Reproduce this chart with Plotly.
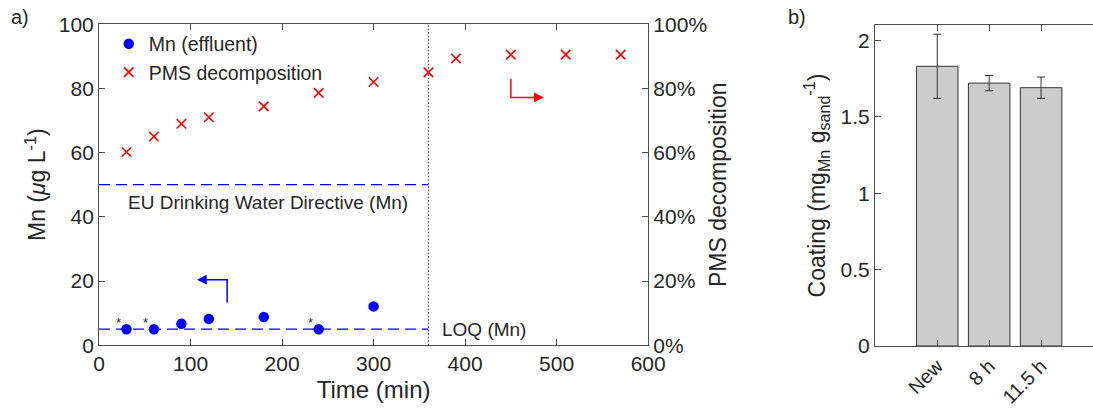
import plotly.graph_objects as go

# ---- data panel a ----
time_mn = [30, 60, 90, 120, 180, 240, 300]
mn_effluent = [5.0, 5.0, 6.7, 8.2, 8.8, 5.0, 12.1]
mn_flag = ["*", "*", "", "", "", "*", ""]
time_pms = [30, 60, 90, 120, 180, 240, 300, 360, 390, 450, 510, 570]
pms_decomp = [60.2, 65.0, 69.0, 71.0, 74.4, 78.6, 82.0, 85.0, 89.3, 90.5, 90.5, 90.5]
eu_limit = 50
loq = 5
line_t = [0, 360]
cutoff_t = 360

# ---- data panel b ----
coat_cats = ["New", "8 h", "11.5 h"]
coat_pos = [1, 2, 3]
coat_vals = [1.83, 1.72, 1.69]
coat_err = [0.21, 0.05, 0.07]

FONT = "Liberation Sans, Arial, sans-serif"
DARK = "#262626"
AX = "#4d4d4d"

fig = go.Figure()

# reference lines
fig.add_trace(go.Scatter(x=line_t, y=[eu_limit, eu_limit], mode="lines",
                         line=dict(color="#0000ff", dash="11px,6px", width=1.3),
                         showlegend=False, hoverinfo="skip", xaxis="x", yaxis="y"))
fig.add_trace(go.Scatter(x=line_t, y=[loq, loq], mode="lines",
                         line=dict(color="#0000ff", dash="11px,6px", width=1.3),
                         showlegend=False, hoverinfo="skip", xaxis="x", yaxis="y"))
fig.add_trace(go.Scatter(x=[cutoff_t, cutoff_t], y=[0, 100], mode="lines",
                         line=dict(color="#444444", dash="1.5px,2px", width=1.2),
                         showlegend=False, hoverinfo="skip", xaxis="x", yaxis="y"))

fig.add_trace(go.Scatter(x=time_mn, y=mn_effluent, mode="markers",
                         name="Mn (effluent)",
                         marker=dict(color="#0000ff", size=10.5, symbol="circle"),
                         xaxis="x", yaxis="y"))
fig.add_trace(go.Scatter(x=time_pms, y=pms_decomp, mode="markers",
                         name="PMS decomposition",
                         marker=dict(color="#ff0000", size=9.5, symbol="x-thin",
                                     line=dict(color="#ff0000", width=1.6)),
                         xaxis="x", yaxis="y2"))

# arrow corner lines
fig.add_trace(go.Scatter(x=[140, 140, 118], y=[13.3, 20.4, 20.4], mode="lines",
                         line=dict(color="#0000ff", width=1.5), showlegend=False,
                         hoverinfo="skip", xaxis="x", yaxis="y"))
fig.add_trace(go.Scatter(x=[450, 450, 475], y=[83, 77.2, 77.2], mode="lines",
                         line=dict(color="#ff0000", width=1.5), showlegend=False,
                         hoverinfo="skip", xaxis="x", yaxis="y2"))

# panel b bars
fig.add_trace(go.Bar(x=coat_pos, y=coat_vals, width=0.8,
                     marker=dict(color="#cccccc", line=dict(color="#333333", width=1)),
                     error_y=dict(type="data", array=coat_err, color="#333333",
                                  thickness=1, width=4),
                     showlegend=False, xaxis="x3", yaxis="y3"))

ann = [
    dict(x=107, y=20.4, ax=120, ay=20.4, xref="x", yref="y", axref="x", ayref="y",
         showarrow=True, arrowhead=2, arrowsize=1.3, arrowwidth=1.5, arrowcolor="#0000ff", text=""),
    dict(x=486, y=77.2, ax=472, ay=77.2, xref="x", yref="y2", axref="x", ayref="y2",
         showarrow=True, arrowhead=2, arrowsize=1.3, arrowwidth=1.5, arrowcolor="#ff0000", text=""),
    dict(x=185, y=eu_limit, xref="x", yref="y", text="EU Drinking Water Directive (Mn)",
         showarrow=False, yanchor="middle", yshift=-18, font=dict(size=19, color=DARK, family=FONT)),
    dict(x=373, y=loq, xref="x", yref="y", text="LOQ (Mn)", xanchor="left",
         showarrow=False, font=dict(size=19, color=DARK, family=FONT)),
    dict(x=0.008, y=0.99, xref="paper", yref="paper", text="a)", showarrow=False,
         xanchor="left", yanchor="top", font=dict(size=20, color=DARK, family=FONT)),
    dict(x=0.719, y=0.99, xref="paper", yref="paper", text="b)", showarrow=False,
         xanchor="left", yanchor="top", font=dict(size=20, color=DARK, family=FONT)),
]
# asterisks flagging values at the LOQ
for t, v, f in zip(time_mn, mn_effluent, mn_flag):
    if f:
        ann.append(dict(x=t, y=v, xref="x", yref="y", text=f, showarrow=False,
                        xshift=-8, yshift=7, font=dict(size=13, color=DARK, family=FONT)))

tickfont = dict(size=21, color=DARK, family=FONT)
titlefont = dict(size=23, color=DARK, family=FONT)

fig.update_layout(
    width=1093, height=410,
    margin=dict(l=0, r=0, t=0, b=0, autoexpand=False),
    paper_bgcolor="white", plot_bgcolor="white",
    font=dict(family=FONT, color=DARK),
    annotations=ann,
    legend=dict(x=0.0995, y=0.94, xanchor="left", yanchor="top",
                bgcolor="rgba(0,0,0,0)", font=dict(size=19.5, color=DARK, family=FONT),
                itemsizing="trace", tracegroupgap=0),
    xaxis=dict(domain=[0.0906, 0.593], range=[0, 600], tickvals=[0, 100, 200, 300, 400, 500, 600],
               ticks="inside", ticklen=6, tickcolor=AX, showline=True, linecolor=AX,
               mirror="ticks", showgrid=False, zeroline=False, tickfont=tickfont, automargin=False,
               title=dict(text="Time (min)", font=dict(size=24, color=DARK, family=FONT), standoff=6),
               anchor="y"),
    yaxis=dict(domain=[0.158, 0.941], range=[0, 100], tickvals=[0, 20, 40, 60, 80, 100],
               ticks="inside", ticklen=6, tickcolor=AX, showline=True, linecolor=AX,
               showgrid=False, zeroline=False, tickfont=tickfont, automargin=False,
               title=dict(text="Mn (<i>μ</i>g L<sup>-1</sup>)", font=titlefont, standoff=6),
               anchor="x"),
    yaxis2=dict(overlaying="y", side="right", range=[0, 100], tickvals=[0, 20, 40, 60, 80, 100],
                ticktext=["0%", "20%", "40%", "60%", "80%", "100%"],
                ticks="inside", ticklen=6, tickcolor=AX, showline=True, linecolor=AX,
                showgrid=False, zeroline=False, tickfont=tickfont, anchor="x", automargin=False,
                title=dict(text="PMS decomposition", font=titlefont, standoff=3)),
    xaxis3=dict(domain=[0.8005, 1.0], range=[-0.2, 4.0], tickvals=coat_pos, ticktext=coat_cats,
                tickangle=-45, ticks="inside", ticklen=6, tickcolor=AX, showline=True,
                linecolor=AX, mirror="ticks", showgrid=False, zeroline=False,
                tickfont=dict(size=19.5, color=DARK, family=FONT), anchor="y3", automargin=False),
    yaxis3=dict(domain=[0.156, 0.939], range=[0, 2.1], tickvals=[0, 0.5, 1, 1.5, 2],
                ticktext=["0", "0.5", "1", "1.5", "2"],
                ticks="inside", ticklen=6, tickcolor=AX, showline=True, linecolor=AX,
                showgrid=False, zeroline=False, tickfont=tickfont, anchor="x3", automargin=False,
                title=dict(text="Coating (mg<sub>Mn</sub> g<sub>sand</sub><sup>-1</sup>)",
                           font=titlefont, standoff=8)),
)

fig.write_html("out.html")
